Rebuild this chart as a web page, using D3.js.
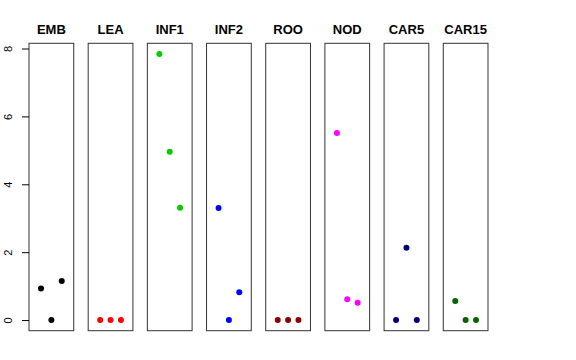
<!DOCTYPE html>
<html>
<head>
<meta charset="utf-8">
<script src="https://cdn.jsdelivr.net/npm/d3@7"></script>
<style>
  body { margin: 0; background: #fff; }
  text { font-family: "Liberation Sans", Arial, Helvetica, sans-serif; }
</style>
</head>
<body>
<svg id="chart" width="576" height="360"></svg>
<script>
var groups = ['EMB', 'LEA', 'INF1', 'INF2', 'ROO', 'NOD', 'CAR5', 'CAR15'];
var colors = ['#000000', '#FF0000', '#00CD00', '#0000FF', '#8B0000', '#FF00FF', '#000080', '#006400'];
// three values per panel, plotted at x = 1, 2, 3
var values = [
    [0.93, 0, 1.15],
    [0, 0, 0],
    [7.84, 4.96, 3.31],
    [3.30, 0, 0.82],
    [0, 0, 0],
    [5.51, 0.61, 0.51],
    [0, 2.13, 0],
    [0.56, 0, 0]
];
var yTicks = [0, 2, 4, 6, 8];

var svg = d3.select('#chart');

var top_ = 43.3, bottom = 330.7;

// panel positions
var panelScale = d3.scaleBand()
    .domain(groups)
    .range([29, 488])
    .paddingInner(0.244)
    .paddingOuter(0);

// R style 4% axis expansion
var yMax = d3.max(values, v => d3.max(v));
var yPad = yMax * 0.04;
var yScale = d3.scaleLinear()
    .domain([0 - yPad, yMax + yPad])
    .range([bottom, top_]);

var xScale = d3.scaleLinear()
    .domain([-0.16, 4.16])
    .range([0, panelScale.bandwidth()]);

groups.forEach(function (name, i) {
    var g = svg.append('g')
        .attr('transform', `translate(${panelScale(name)},0)`);

    g.append('rect')
        .attr('x', 0)
        .attr('y', top_)
        .attr('width', panelScale.bandwidth())
        .attr('height', bottom - top_)
        .attr('fill', 'none')
        .attr('stroke', '#333')
        .attr('stroke-width', 1);

    g.append('text')
        .attr('x', panelScale.bandwidth() / 2)
        .attr('y', 34)
        .attr('text-anchor', 'middle')
        .style('font-size', '13px')
        .style('font-weight', 'bold')
        .text(name);

    g.selectAll('circle')
        .data(values[i])
        .enter()
        .append('circle')
        .attr('cx', (d, j) => xScale(j + 1))
        .attr('cy', d => yScale(d))
        .attr('r', 3)
        .attr('fill', colors[i]);

    // only the first panel gets an axis
    if (i === 0) {
        var ax = svg.append('g')
            .attr('transform', `translate(${panelScale(name)},0)`)
            .call(d3.axisLeft(yScale).tickValues(yTicks).tickSize(7).tickPadding(5));
        ax.select('.domain').remove();
        ax.selectAll('text')
            .style('font-size', '11px')
            .attr('transform', function () {
                var y = d3.select(this.parentNode).attr('transform');
                return null;
            });
        ax.selectAll('.tick text')
            .attr('x', 0)
            .attr('dy', 0)
            .attr('text-anchor', 'middle')
            .attr('transform', 'translate(-17,0) rotate(-90)');
    }
});
</script>
</body>
</html>
